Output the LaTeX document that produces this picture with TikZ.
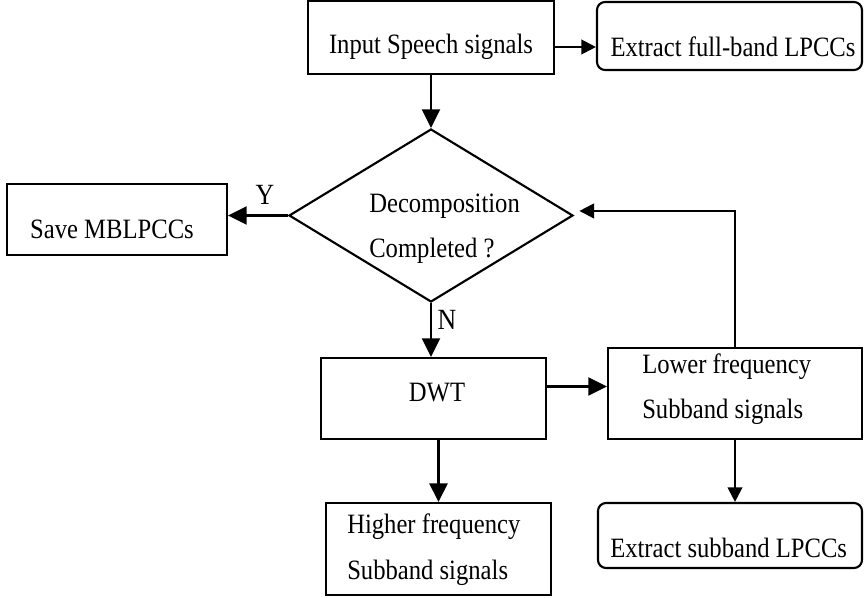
\documentclass[tikz,border=0pt]{standalone}
\usepackage{fontspec}
\setmainfont{Liberation Serif}[FakeStretch=0.88]
\usetikzlibrary{arrows.meta,fit,shapes.geometric}
\tikzset{
  box/.style={draw, rectangle, line width=1.6pt, inner sep=0pt},
  roundbox/.style={box, rounded corners=6pt},
  txt/.style={inner sep=0pt, align=left},
  arr/.style={line width=1.6pt, -{Triangle[length=11pt,width=11pt]}},
  bigarr/.style={line width=1.6pt, -{Triangle[length=14pt,width=13.5pt]}},
}

\begin{document}
\begin{tikzpicture}[x=0.75pt, y=-0.75pt, font=\fontsize{21}{34}\selectfont]
			%%%%% START %%%%%
			\useasboundingbox (0,0) rectangle (864,598);
			
			% boxes
			\node[box, fit={(308,1) (554,74)}] (input) {};
			\node[roundbox, fit={(597,2) (862,70)}] (fullband) {};
			\node[draw, diamond, line width=1.6pt, inner sep=0pt, minimum width=213pt, minimum height=129.75pt] (decide) at (431,215.5) {};
			\node[box, fit={(7,184) (227,255)}] (save) {};
			\node[box, fit={(321,358) (546,439)}] (dwt) {};
			\node[box, fit={(608,348) (862,439)}] (lower) {};
			\node[box, fit={(326,503) (551,595)}] (higher) {};
			\node[roundbox, fit={(598,503) (862,568)}] (subband) {};
			
			% texts
			\node[txt] (t-input) at (431,47) {Input Speech signals};
			\node[txt] (t-full) at (733,47) {Extract full-band LPCCs};
			\node[txt, anchor=west] (t-decide) at (369,229) {Decomposition\\Completed ?};
			\node[txt] (t-save) at (112,229) {Save MBLPCCs};
			\node[txt] (t-dwt) at (437,393) {DWT};
			\node[txt, anchor=west] (t-lower) at (642,389) {Lower frequency\\Subband signals};
			\node[txt, anchor=west] (t-higher) at (347,549.5) {Higher frequency\\Subband signals};
			\node[txt, anchor=west] (t-sub) at (610,548) {Extract subband LPCCs};
			\node[txt, font=\fontsize{22}{26}\selectfont] (yes) at (265,195) {Y};
			\node[txt, font=\fontsize{22}{26}\selectfont] (no) at (447,320) {N};
			
			% connectors
			\draw[arr] (input.east |- t-input) -- (fullband.west |- t-input);
			\draw[bigarr] (input.south) -- (decide.north);
			\draw[bigarr] (decide.west) -- (save.east |- decide.west);
			\draw[bigarr] (decide.south) -- (decide.south |- dwt.north);
			\draw[bigarr] ([yshift=9pt]dwt.east) -- ([yshift=9pt]dwt.east -| lower.west);
			\draw[arr] (lower.north) |- ([xshift=4pt,yshift=3.4pt]decide.east);
			\draw[bigarr, line width=2.4pt] (higher.north |- dwt.south) -- (higher.north);
			\draw[arr] (lower.south) -- (lower.south |- subband.north);
			
			%%%%% END %%%%%
		\end{tikzpicture}
\end{document}
